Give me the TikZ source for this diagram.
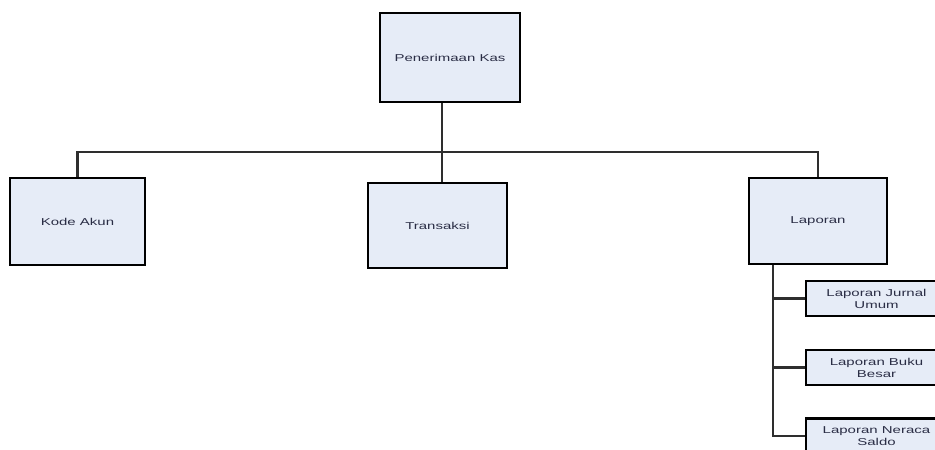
\documentclass[tikz,border=0pt]{standalone}
\usepackage{fontspec}
\usepackage{graphicx}
\setmainfont{Liberation Sans}
\definecolor{boxfill}{HTML}{E6ECF7}
\definecolor{txt}{HTML}{2A2D45}
\definecolor{conn}{HTML}{2E2E2E}
\newcommand{\wt}[1]{\scalebox{1.5}[1]{#1}}
\tikzset{
  box/.style={draw=black, line width=2.3pt, fill=boxfill, rectangle, inner sep=0pt,
    text=txt, font=\fontsize{10}{12}\selectfont, align=center},
  conn/.style={draw=conn, line width=2.3pt}
}
\begin{document}
\begin{tikzpicture}[x=1pt,y=-1pt]
\useasboundingbox (0,0) rectangle (935,450);
\fill[white] (0,0) rectangle (935,450);
\node[box, minimum width=140pt, minimum height=89pt] (top) at (450,57.5) {\wt{Penerimaan Kas}};
\node[box, minimum width=135pt, minimum height=87pt] (kode) at (77.5,221.5) {\wt{Kode Akun}};
\node[box, minimum width=139pt, minimum height=85pt] (trans) at (437.5,225.5) {\wt{Transaksi}};
\node[box, minimum width=138pt, minimum height=86pt] (lap) at (818,221) {\wt{Laporan}};
\node[box, minimum width=141pt, minimum height=35pt] (s1) at (876.5,298.5) {\wt{Laporan Jurnal}\\\wt{Umum}};
\node[box, minimum width=141pt, minimum height=35pt] (s2) at (876.5,367.5) {\wt{Laporan Buku}\\\wt{Besar}};
\node[box, minimum width=141pt, minimum height=35pt] (s3) at (876.5,436) {\wt{Laporan Neraca}\\\wt{Saldo}};
\coordinate (bus) at (442,152);
\coordinate (sub) at (773,264);
\draw[conn] (top.south -| bus) -- (trans.north -| bus);
\draw[conn] (kode.north) -- (kode.north |- bus) -- (lap.north |- bus) -- (lap.north);
\draw[conn] (lap.south -| sub) -- (s3.west -| sub) -- (s3.west);
\draw[conn] (s1.west -| sub) -- (s1.west);
\draw[conn] (s2.west -| sub) -- (s2.west);
\end{tikzpicture}
\end{document}
